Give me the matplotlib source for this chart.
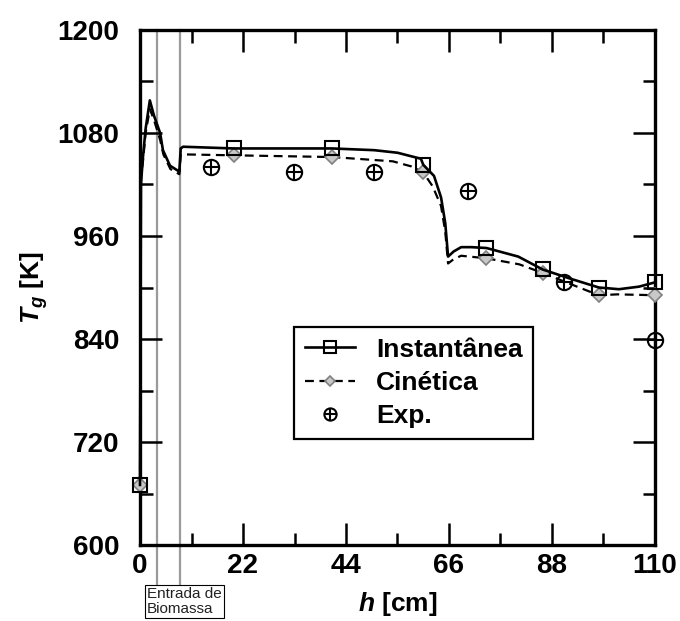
import matplotlib
matplotlib.use("Agg")
from matplotlib import pyplot as plt
from matplotlib.legend_handler import HandlerTuple
from matplotlib.ticker import MultipleLocator

plt.rcParams['font.family'] = ['Liberation Sans', 'DejaVu Sans']
plt.rcParams['font.weight'] = 'bold'
plt.rcParams['mathtext.fontset'] = 'custom'
plt.rcParams['mathtext.it'] = 'Liberation Sans:italic:bold'
plt.rcParams['mathtext.bf'] = 'Liberation Sans:bold'
plt.rcParams['mathtext.rm'] = 'Liberation Sans:bold'

# gas temperature along the reactor height
h_inst = [0, 0.2, 0.6, 1.2, 2.1, 3.0, 4.3, 4.9, 6.4, 8.4, 8.7, 9.2, 20, 41, 50, 55, 60,
          60.5, 62.8, 64.3, 65.2, 65.8, 67, 68.6, 70.8, 74, 80.8, 86, 91.5, 98, 102.3, 106.6, 110]
T_inst = [670, 1020, 1050, 1085, 1118, 1100, 1080, 1060, 1042, 1035, 1062, 1064, 1062, 1062, 1060, 1057, 1050,
          1043, 1030, 1005, 975, 936, 942, 947, 947, 946, 936, 921, 911, 900, 898, 901, 906]
mark_inst = [0, 12, 13, 17, 25, 27, 29, 32]

h_cin = [0, 0.2, 0.6, 1.2, 2.1, 3.0, 4.3, 5.0, 6.5, 8.4, 8.7, 10, 20, 41, 54, 58, 60.5,
         62.5, 64.3, 65.2, 65.8, 67, 68.6, 74, 81, 86, 91.5, 98, 102, 110]
T_cin = [670, 1030, 1045, 1080, 1108, 1095, 1072, 1055, 1038, 1032, 1055, 1055, 1054, 1052, 1047, 1041, 1034,
         1018, 995, 965, 928, 933, 937, 934, 927, 917, 905, 891, 892, 891]
mark_cin = [0, 12, 13, 16, 23, 25, 27, 29]

h_exp = [15.2, 32.8, 50, 70, 90.5, 110]
T_exp = [1040, 1034, 1034, 1013, 906, 839]

# biomass feed zone
h_feed = [3.6, 8.6]

fig = plt.figure(figsize=(6.8, 6.21), dpi=100)
ax = fig.add_axes([140/680, 1-545/621, 515/680, 515/621])

l1, = ax.plot(h_inst, T_inst, '-', color='black', lw=1.9, marker='s', markevery=mark_inst,
              ms=10, mfc='none', mec='black', mew=1.5, zorder=4, clip_on=False, label='Instantânea')
l2, = ax.plot(h_cin, T_cin, '--', color='black', lw=1.6, dashes=(4, 2.5), marker='D', markevery=mark_cin,
              ms=7, mfc='#c8c8c8', mec='#808080', mew=1.2, zorder=3, clip_on=False, label='Cinética')
e1, = ax.plot(h_exp, T_exp, 'o', ms=11, mfc='none', mec='black', mew=1.5, zorder=5, clip_on=False)
e2, = ax.plot(h_exp, T_exp, '+', ms=11, mec='black', mew=1.5, zorder=5, clip_on=False)

for hf in h_feed:
    ax.axvline(hf, ymin=-0.078, ymax=1, color='#9a9a9a', lw=1.6, clip_on=False, zorder=1)

ax.set_xlim(0, 110)
ax.set_ylim(600, 1200)
ax.xaxis.set_major_locator(MultipleLocator(22))
ax.xaxis.set_minor_locator(MultipleLocator(11))
ax.yaxis.set_major_locator(MultipleLocator(120))
ax.yaxis.set_minor_locator(MultipleLocator(60))
ax.tick_params(which='both', direction='in', top=True, right=True, width=1.8, labelsize=20)
ax.tick_params(axis='x', pad=6)
ax.tick_params(axis='y', pad=15)
ax.tick_params(which='major', length=16)
ax.tick_params(which='minor', length=9)
for lab in ax.get_xticklabels() + ax.get_yticklabels():
    lab.set_fontweight('bold')
for sp in ax.spines.values():
    sp.set_linewidth(2.4)

ax.set_xlabel('$h$ [cm]', fontsize=19, fontweight='bold', labelpad=8)
ax.set_ylabel('$T_{g}$ [K]', fontsize=19, fontweight='bold', labelpad=5)

leg = ax.legend([l1, l2, (e1, e2)], ['Instantânea', 'Cinética', 'Exp.'],
                handler_map={tuple: HandlerTuple(ndivide=1, pad=0)},
                loc='upper left', bbox_to_anchor=(294/680, 1-327/621), bbox_transform=fig.transFigure,
                borderaxespad=0, fancybox=False, edgecolor='black', framealpha=1, handlelength=1.9,
                handletextpad=0.8, borderpad=0.4, labelspacing=0.35, markerscale=0.8,
                prop={'family': 'Liberation Sans', 'weight': 'bold', 'size': 19})
leg.get_frame().set_linewidth(1.6)

fig.text(147/680, 1-587/621, 'Entrada de\nBiomassa', fontsize=11, fontweight='normal',
         color='#222222', va='top', ha='left', linespacing=1.1,
         bbox=dict(boxstyle='square,pad=0.12', fc='white', ec='black', lw=0.8))

fig.savefig('out.png', dpi=100)
